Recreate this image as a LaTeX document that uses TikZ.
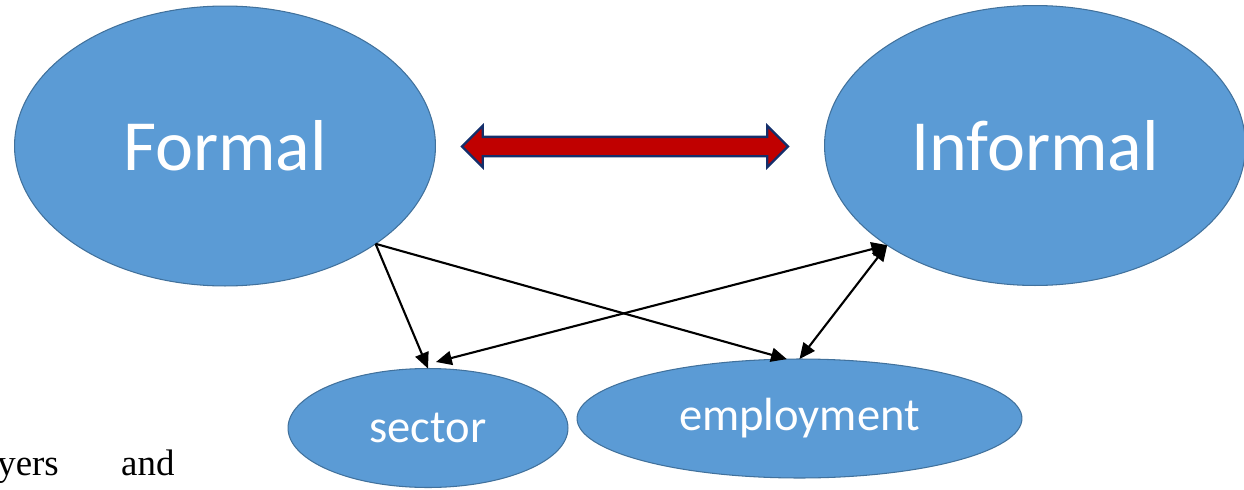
\documentclass[tikz,border=0pt]{standalone}
\usepackage{fontspec}
\setmainfont{Carlito}
\newfontfamily\bodyserif{Liberation Serif}
\usetikzlibrary{shapes.geometric,shapes.arrows,arrows.meta}
\definecolor{blobfill}{HTML}{5B9BD5}
\definecolor{blobline}{HTML}{41719C}
\definecolor{linkred}{HTML}{C00000}
\definecolor{linknavy}{HTML}{142F6B}
\tikzset{
  blob/.style={ellipse, draw=blobline, fill=blobfill, line width=0.6pt,
    text=white, inner sep=0pt, outer sep=0pt},
  bigblob/.style={blob, minimum width=8.42cm, minimum height=5.6cm,
    font=\fontsize{41}{48}\selectfont},
  smallblob/.style={blob, minimum height=2.38cm,
    font=\fontsize{26.5}{32}\selectfont},
  linkarrow/.style={double arrow, draw=linknavy, fill=linkred, line width=1.3pt,
    inner sep=0.17cm, double arrow head extend=0.22cm,
    double arrow tip angle=90, minimum height=6.52cm},
  bodytext/.style={font=\bodyserif\fontsize{21}{25}\selectfont}
}
\begin{document}
\begin{tikzpicture}[x=0.02cm, y=-0.02cm]
      \useasboundingbox (0,0) rectangle (1244,490);
      \draw
        (225,146) node[bigblob] (formal){Formal}
        (1035,145.5) node[bigblob] (informal){Informal}
        (428,428) node[smallblob, minimum width=5.6cm] (sector){sector}
        (799.5,418.5) node[smallblob, minimum width=8.9cm] (employment){employment};
      \node[linkarrow] (link) at (625,146.5) {};
      \coordinate (sectortip) at (436,362);
      \node[bodytext, anchor=base east] (yers) at (65,475) {yers};
      \node[bodytext, anchor=base west] (and) at (115,475) {and};
      \begin{scope}[line width=1.2pt, >={Triangle[length=9pt,width=8pt]}]
        \draw[->] (formal.-33.4) to (sector.north);
        \draw[->] (formal.-33.4) to (employment.102);
        \draw[<->] (informal.-146.2) to (sectortip);
        \draw[<->] (informal.-146.2) to (employment.north);
      \end{scope}
    \end{tikzpicture}
\end{document}
